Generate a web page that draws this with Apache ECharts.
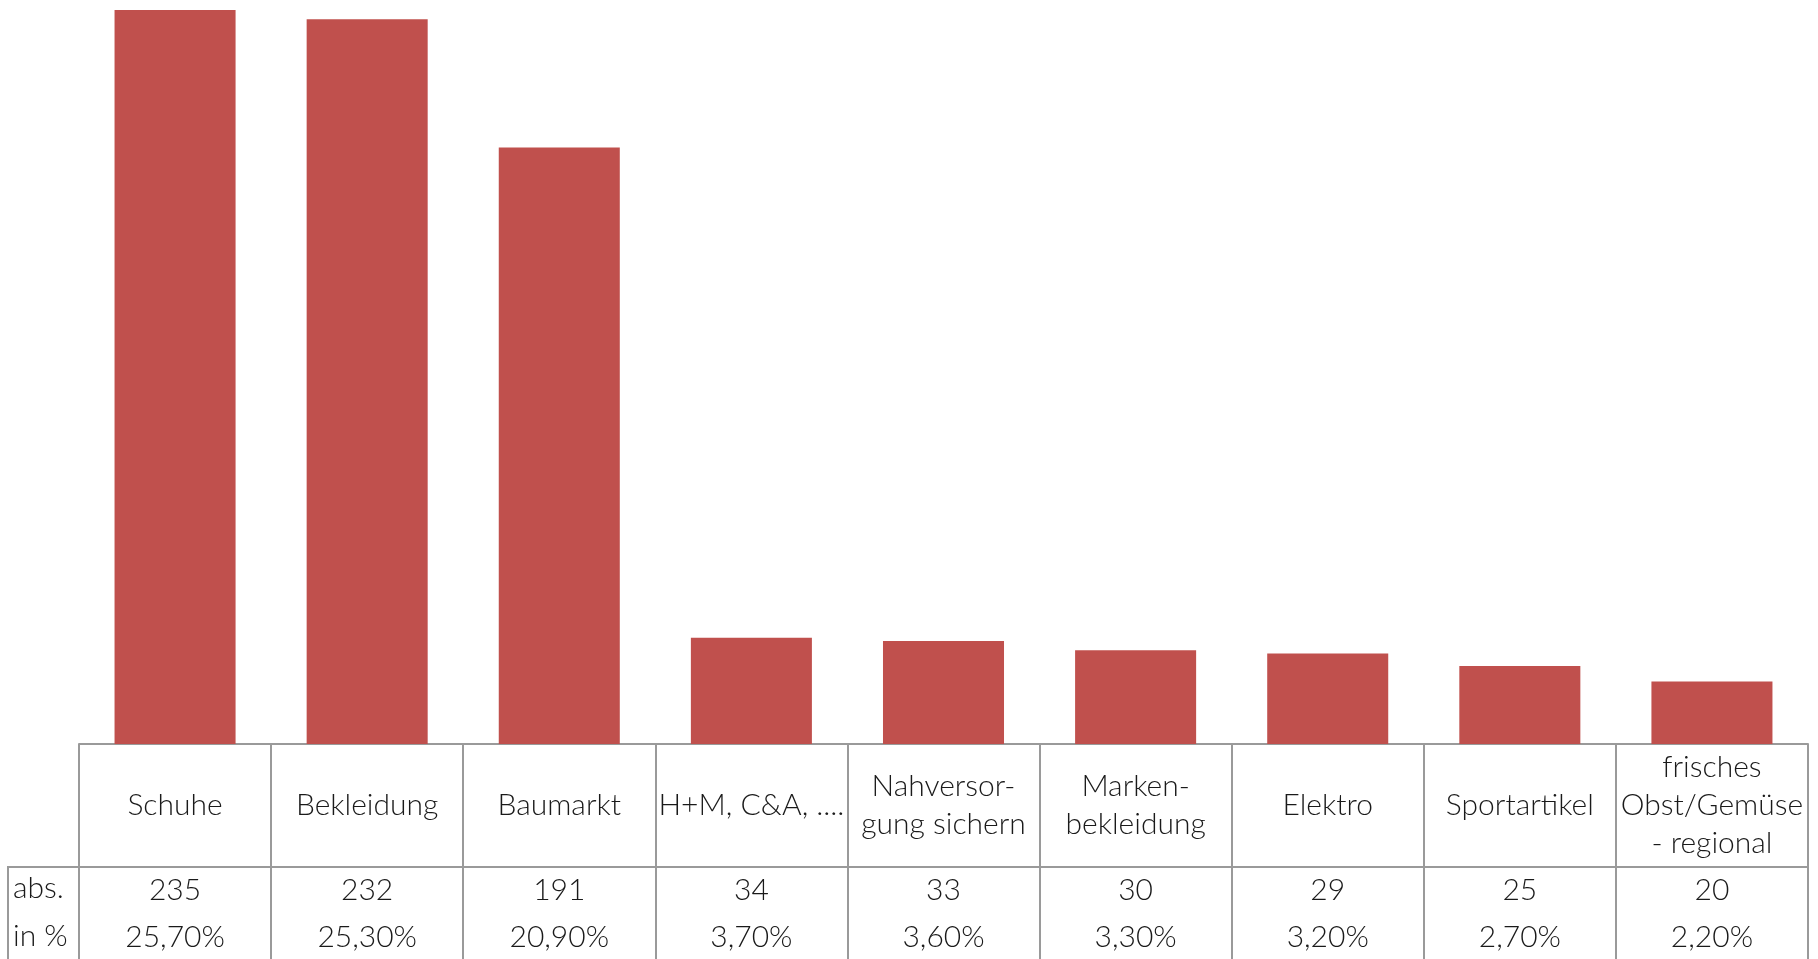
<!DOCTYPE html>
<html>
<head>
<meta charset="utf-8">
<script src="https://cdn.jsdelivr.net/npm/echarts@6/dist/echarts.min.js"></script>
<style>
  html, body { margin: 0; padding: 0; background: #fff; }
  #main { width: 1818px; height: 959px; }
</style>
</head>
<body>
<div id="main"></div>
<script>
// Kategorien und Werte
var categories = ['Schuhe', 'Bekleidung', 'Baumarkt', 'H+M, C&A, ....', 'Nahversor-\ngung sichern',
  'Marken-\nbekleidung', 'Elektro', 'Sportartikel', 'frisches\nObst/Gemüse\n- regional']
var absValues = [235, 232, 191, 34, 33, 30, 29, 25, 20]
var pctLabels = ['25,70%', '25,30%', '20,90%', '3,70%', '3,60%', '3,30%', '3,20%', '2,70%', '2,20%']
var rowLabels = ['abs.', 'in %']

var lineColor = '#9a9a9a'
var textColor = '#1a1a1a'
var fontFamily = 'Lato'
var fontSize = 30
var fontWeight = 300

var myChart = echarts.init(document.getElementById('main'))

var option = {
  animation: false,
  grid: { left: 79, right: 10, top: 10, bottom: 215 },
  xAxis: [
    {
      // Kategorienzeile
      type: 'category',
      data: categories,
      axisLine: { show: true, lineStyle: { color: lineColor, width: 2 } },
      axisTick: { show: true, interval: 0, length: 215, lineStyle: { color: lineColor, width: 2 } },
      axisLabel: {
        interval: 0,
        margin: 61,
        verticalAlign: 'middle',
        color: textColor,
        fontFamily: fontFamily,
        fontWeight: fontWeight,
        fontSize: fontSize,
        lineHeight: 38
      }
    },
    {
      // abs.-Zeile
      type: 'category',
      data: categories,
      position: 'bottom',
      offset: 123,
      axisLine: { show: true, lineStyle: { color: lineColor, width: 2 } },
      axisTick: { show: false },
      axisLabel: {
        interval: 0,
        margin: 23,
        verticalAlign: 'middle',
        color: textColor,
        fontFamily: fontFamily,
        fontWeight: fontWeight,
        fontSize: fontSize,
        formatter: function (v, i) { return String(absValues[i]) }
      }
    },
    {
      // Prozent-Zeile
      type: 'category',
      data: categories,
      position: 'bottom',
      offset: 123,
      axisLine: { show: false },
      axisTick: { show: false },
      axisLabel: {
        interval: 0,
        margin: 70,
        verticalAlign: 'middle',
        color: textColor,
        fontFamily: fontFamily,
        fontWeight: fontWeight,
        fontSize: fontSize,
        formatter: function (v, i) { return pctLabels[i] }
      }
    }
  ],
  yAxis: {
    type: 'value',
    min: 0,
    max: 235,
    show: false,
    splitLine: { show: false }
  },
  series: [
    {
      type: 'bar',
      xAxisIndex: 0,
      data: absValues,
      barCategoryGap: '37%',
      itemStyle: { color: '#C0504D' }
    }
  ],
  graphic: [
    // linke Spalte mit Zeilenbeschriftungen
    { type: 'line', shape: { x1: 7, y1: 867, x2: 80, y2: 867 }, style: { stroke: lineColor, lineWidth: 2 } },
    { type: 'line', shape: { x1: 8, y1: 866, x2: 8, y2: 959 }, style: { stroke: lineColor, lineWidth: 2 } },
    { type: 'text', left: 13, top: 873, style: { text: rowLabels[0], fill: textColor, font: fontWeight + ' ' + fontSize + 'px ' + fontFamily } },
    { type: 'text', left: 13, top: 921, style: { text: rowLabels[1], fill: textColor, font: fontWeight + ' ' + fontSize + 'px ' + fontFamily } }
  ]
}

myChart.setOption(option)
</script>
</body>
</html>
